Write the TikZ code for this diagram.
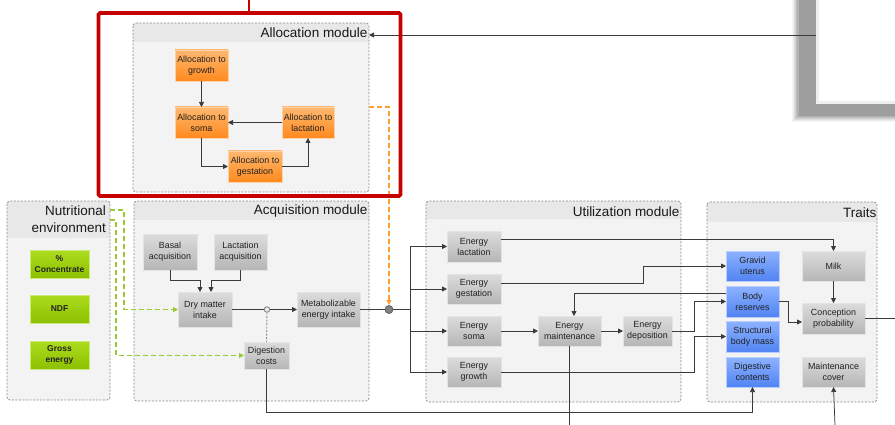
\documentclass[tikz,border=0pt]{standalone}
\usepackage{fontspec}
\setmainfont{Liberation Sans}
\usetikzlibrary{arrows.meta,fit}

\definecolor{cline}{HTML}{3A3A3A}
\definecolor{boxtxt}{HTML}{222222}
\definecolor{modbg}{HTML}{F3F3F3}
\definecolor{hdrbg}{HTML}{E8E8E8}
\definecolor{modedge}{HTML}{8A8A8A}
\definecolor{grayTop}{HTML}{DCDCDC}
\definecolor{grayBot}{HTML}{B6B6B6}
\definecolor{grayEdge}{HTML}{E4E4E4}
\definecolor{orTop}{HTML}{FFB870}
\definecolor{orBot}{HTML}{FF8A1E}
\definecolor{orEdge}{HTML}{FFD2A6}
\definecolor{grTop}{HTML}{ADDC1E}
\definecolor{grBot}{HTML}{8CC000}
\definecolor{grEdge}{HTML}{CCEA7A}
\definecolor{blTop}{HTML}{8DB2FF}
\definecolor{blBot}{HTML}{5183F2}
\definecolor{blEdge}{HTML}{B8CEFF}
\definecolor{frameRed}{HTML}{C40000}
\definecolor{greenDash}{HTML}{99CC33}
\definecolor{orangeDash}{HTML}{FFA033}
\definecolor{shadowC}{HTML}{9E9E9E}
\definecolor{paneEdge}{HTML}{EEEEEE}

\tikzset{
  conn/.style={draw=cline, line width=0.75pt},
  tip/.style={-{Triangle[length=5pt,width=5pt]}},
  sz/.style 2 args={minimum width=#1pt, minimum height=#2pt},
  boxtext/.style={align=center, inner sep=0pt, outer sep=0pt, text=boxtxt,
    font=\fontsize{8.9}{11}\selectfont, line width=0.6pt},
  graybox/.style={boxtext, draw=grayEdge, top color=grayTop, bottom color=grayBot},
  orbox/.style={boxtext, draw=orEdge, top color=orTop, bottom color=orBot},
  grbox/.style={boxtext, draw=grEdge, top color=grTop, bottom color=grBot,
    font=\fontsize{8.5}{11}\selectfont\bfseries},
  blbox/.style={boxtext, draw=blEdge, top color=blTop, bottom color=blBot},
  modline/.style={draw=modedge, line width=0.75pt, dash pattern=on 2pt off 1.5pt},
  modtitle/.style={anchor=east, inner sep=0pt, text=black!90,
    font=\fontsize{13.5}{17}\selectfont, align=right},
  gdash/.style={draw=greenDash, line width=1.1pt, dash pattern=on 5pt off 3pt},
  odash/.style={draw=orangeDash, line width=1.1pt, dash pattern=on 5pt off 3pt},
  graydash/.style={draw=black!45, line width=0.9pt, dash pattern=on 2pt off 1.5pt},
}

% module panel: name, x1, y1, x2, y2, bottom of header band
\newcommand\drawmodule[6]{%
  \node[fit={(#2,#3) (#4,#5)}, inner sep=0pt, outer sep=0pt] (#1) {};
  \begin{scope}
    \clip[rounded corners=3pt] (#1.north west) rectangle (#1.south east);
    \fill[modbg] (#1.north west) rectangle (#1.south east);
    \fill[hdrbg] (#1.north west) rectangle (#4,#6);
  \end{scope}
  \draw[modline, rounded corners=3pt] (#1.north west) rectangle (#1.south east);
}

\begin{document}
\begin{tikzpicture}[x=1pt,y=-1pt]
\useasboundingbox (0,0) rectangle (895,425);
\fill[white] (0,0) rectangle (895,425);

% pane with soft drop shadow, top right
\foreach \d/\c in {5/10, 4/20, 3/35, 2/50, 1/65, 0/80}{
  \fill[shadowC!\c!white] (797-\d,-5) rectangle (900,117.5+\d);
}
\fill[shadowC] (799,-5) rectangle (900,116);
\fill[paneEdge] (816,-5) rectangle (900,104);
\fill[white] (819,-5) rectangle (900,101);

% module panels
\drawmodule{allocm}{133}{23}{369}{192}{42}
\drawmodule{nutm}{7}{201}{110}{400}{238}
\drawmodule{acqm}{134}{201}{369}{401}{220}
\drawmodule{utilm}{426}{201}{681}{402}{219}
\drawmodule{traitm}{707}{202}{877}{402}{222}

\node[modtitle] (tAlloc) at (367.5,33) {Allocation module};
\node[modtitle] (tNutr) at (106,219.5) {Nutritional\\environment};
\node[modtitle] (tAcq) at (367.5,211) {Acquisition module};
\node[modtitle] (tUtil) at (679.5,212) {Utilization module};
\node[modtitle] (tTraits) at (876.5,212.5) {Traits};

% allocation boxes
\node[orbox, sz={53}{31}] (ag) at (201.5,65.5) {Allocation to\\growth};
\node[orbox, sz={53}{31}] (as) at (201.5,122.5) {Allocation to\\soma};
\node[orbox, sz={52}{31}] (al) at (308,122.5) {Allocation to\\lactation};
\node[orbox, sz={54}{31}] (age) at (255,166.5) {Allocation to\\gestation};

% nutritional environment
\node[grbox, sz={59}{28}] (conc) at (59.5,264) {\%\\Concentrate};
\node[grbox, sz={59}{28}] (ndf) at (59.5,309) {NDF};
\node[grbox, sz={59}{28}] (gen) at (59.5,355) {Gross\\energy};

% acquisition
\node[graybox, sz={54}{36}] (basal) at (170,252) {Basal\\acquisition};
\node[graybox, sz={53}{36}] (lacq) at (240.5,252) {Lactation\\acquisition};
\node[graybox, sz={54}{35}] (dmi) at (205,309.5) {Dry matter\\intake};
\node[graybox, sz={63}{35}] (mei) at (328.5,309.5) {Metabolizable\\energy intake};
\node[graybox, sz={45}{27}] (dig) at (266.5,355.5) {Digestion\\costs};
\node[circle, draw=black!55, fill=black!8, line width=0.7pt, minimum size=5.5pt, inner sep=0pt] (c1) at (267,309.5) {};
\node[circle, draw=black!65, fill=black!50, line width=0.7pt, minimum size=8pt, inner sep=0pt] (d1) at (389,309.5) {};
\coordinate (br) at (410,309.5);

% utilization
\node[graybox, sz={54}{31}] (el) at (474,246.5) {Energy\\lactation};
\node[graybox, sz={54}{30}] (egs) at (474,289) {Energy\\gestation};
\node[graybox, sz={54}{30}] (eso) at (474,331) {Energy\\soma};
\node[graybox, sz={54}{30}] (egr) at (474,372) {Energy\\growth};
\node[graybox, sz={63}{30}] (emt) at (569.5,331) {Energy\\maintenance};
\node[graybox, sz={49}{30}] (edp) at (647.5,331) {Energy\\deposition};

% traits
\node[blbox, sz={53}{30}] (gu) at (752.5,266) {Gravid\\uterus};
\node[blbox, sz={53}{31}] (brs) at (752.5,301.5) {Body\\reserves};
\node[blbox, sz={53}{31}] (sbm) at (752.5,336.5) {Structural\\body mass};
\node[blbox, sz={53}{30}] (dcn) at (752.5,372) {Digestive\\contents};
\node[graybox, sz={63}{30}] (milk) at (833.5,266) {Milk};
\node[graybox, sz={63}{31}] (cp) at (833.5,318.5) {Conception\\probability};
\node[graybox, sz={63}{30}] (mc) at (833.5,372) {Maintenance\\cover};

% helper points
\coordinate (o1) at (389,107);
\coordinate (g1) at (124,210);
\coordinate (g2) at (116,220);
\coordinate (k1) at (643,0);
\coordinate (k2) at (694,0);
\coordinate (k3) at (0,412);
\coordinate (e1) at (569.5,425);
\coordinate (e2) at (835,425);
\coordinate (e3) at (895,318.5);
\coordinate (e4) at (816,35);

% allocation connectors
\draw[conn,tip] (ag.south) -- (as.north);
\draw[conn,tip] (al.west) -- (as.east);
\draw[conn,tip] (as.south) |- (age.west);
\draw[conn,tip] (age.east) -| (al.south);

% incoming feedback to allocation module
\draw[conn,tip] (e4) -- (allocm.east |- e4);

% acquisition connectors
\draw[conn,tip] (basal.south) -- ++(0,10) -| ([xshift=-5pt]dmi.north);
\draw[conn,tip] (lacq.south) -- ++(0,10) -| ([xshift=6pt]dmi.north);
\draw[conn] (dmi.east) -- (c1.west);
\draw[conn,tip] (c1.east) -- (mei.west);
\draw[graydash] (c1.south) -- (dig.north);
\draw[conn] (mei.east) -- (d1.west);
\draw[conn] (d1.east) -- (br);

% environment inputs
\draw[gdash,tip] (nutm.east |- g1) -- (g1) |- (dmi.west);
\draw[gdash,tip] (nutm.east |- g2) -- (g2) |- (dig.west);

% allocation signal
\draw[odash,tip] (allocm.east |- o1) -- (o1) -- (d1.north);

% energy branches
\draw[conn] (br |- el.west) -- (br |- egr.west);
\draw[conn,tip] (br |- el.west) -- (el.west);
\draw[conn,tip] (br |- egs.west) -- (egs.west);
\draw[conn,tip] (br |- eso.west) -- (eso.west);
\draw[conn,tip] (br |- egr.west) -- (egr.west);

% utilization connectors
\draw[conn,tip] ([yshift=7.5pt]el.east) -| (milk.north);
\draw[conn,tip] ([yshift=6pt]egs.east) -| (k1 |- gu.west) -- (gu.west);
\draw[conn,tip] ([yshift=8.5pt]brs.west) -| ([xshift=4.5pt]emt.north);
\draw[conn,tip] (eso.east) -- (emt.west);
\draw[conn,tip] (emt.east) -- (edp.west);
\draw[conn,tip] (edp.east) -| (k2 |- brs.west) -- (brs.west);
\draw[conn,tip] (egr.east) -| (k2 |- sbm.west) -- (sbm.west);
\draw[conn] (emt.south) -- (e1);
\draw[conn,tip] (dig.south) -- (dig.south |- k3) -| (dcn.south);

% traits connectors
\draw[conn,tip] (milk.south) -- (cp.north);
\draw[conn,tip] (brs.east) -- ++(9,0) |- ([yshift=-3.5pt]cp.west);
\draw[conn] (cp.east) -- (e3);
\draw[conn,tip] (e2) -- (mc.south);

% highlight frame
\draw[frameRed, line width=3.6pt, rounded corners=1.5pt] (98.5,13) rectangle (400.5,196);
\draw[frameRed, line width=2pt] (249,-2) -- (249,13);
\end{tikzpicture}
\end{document}
